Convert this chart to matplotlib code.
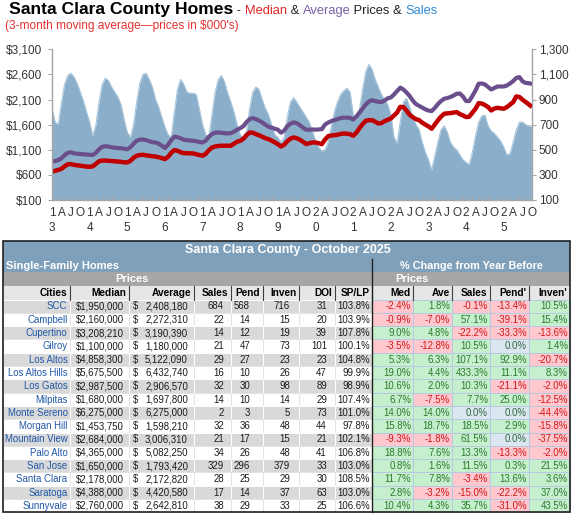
import numpy as np
import matplotlib
matplotlib.use('Agg')
import matplotlib.pyplot as plt
from matplotlib.patches import Rectangle
import matplotlib.ticker as mticker

plt.rcParams['font.family'] = ['Liberation Sans', 'DejaVu Sans']

# monthly, Jan 2013 .. Oct 2025 (3-month moving averages)
sales = [830, 720, 700, 870, 1020, 1090, 1110, 1080, 1030, 960, 890, 800,
         720, 610, 700, 880, 1020, 1070, 1050, 1000, 960, 920, 860, 740,
         640, 600, 700, 880, 1030, 1100, 1110, 1060, 1000, 900, 840, 760,
         680, 620, 600, 800, 980, 1060, 1020, 960, 950, 950, 940, 820,
         700, 620, 600, 780, 960, 1060, 1090, 1040, 950, 880, 800, 700,
         620, 590, 650, 830, 960, 1000, 980, 900, 830, 780, 700, 620,
         600, 560, 600, 760, 880, 915, 880, 840, 800, 760, 720, 650,
         570, 520, 490, 500, 560, 680, 800, 880, 940, 970, 990, 960,
         780, 740, 820, 980, 1120, 1180, 1140, 1060, 1000, 940, 900, 860,
         780, 600, 550, 720, 880, 910, 840, 760, 700, 660, 560, 480,
         420, 340, 450, 560, 660, 690, 640, 560, 520, 500, 460, 420,
         400, 380, 480, 610, 720, 770, 775, 690, 650, 630, 600, 570,
         520, 460, 470, 560, 660, 720, 720, 700, 690, 690]
avg_price = [870, 875, 895, 930, 990, 1040, 1050, 1030, 1020, 1015, 1010, 1005,
             1000, 995, 1040, 1110, 1160, 1170, 1165, 1150, 1140, 1135, 1130, 1120,
             1110, 1150, 1220, 1280, 1300, 1305, 1290, 1270, 1250, 1245, 1220, 1180,
             1135, 1200, 1290, 1360, 1350, 1330, 1300, 1290, 1285, 1280, 1270, 1255,
             1245, 1280, 1360, 1410, 1440, 1445, 1440, 1430, 1425, 1430, 1460, 1500,
             1530, 1570, 1650, 1710, 1730, 1710, 1680, 1645, 1600, 1560, 1540, 1520,
             1500, 1440, 1480, 1570, 1620, 1645, 1630, 1590, 1540, 1500, 1500, 1505,
             1500, 1505, 1510, 1600, 1640, 1670, 1690, 1710, 1730, 1740, 1740, 1735,
             1700, 1760, 1840, 1920, 2000, 2060, 2085, 2070, 2055, 2050, 2080, 2125,
             2140, 2200, 2270, 2337, 2300, 2240, 2170, 2080, 2010, 1975, 1940, 1905,
             1880, 1870, 1930, 2010, 2070, 2116, 2130, 2150, 2180, 2215, 2220, 2160,
             2070, 2070, 2170, 2280, 2414, 2420, 2400, 2350, 2300, 2330, 2360, 2360,
             2360, 2380, 2420, 2467, 2530, 2546, 2460, 2430, 2425, 2408]
med_price = [670, 680, 700, 720, 770, 810, 815, 800, 790, 782, 775, 765,
             762, 770, 820, 870, 885, 885, 880, 875, 870, 865, 860, 850,
             848, 880, 940, 980, 995, 1000, 990, 980, 970, 965, 950, 935,
             914, 960, 1040, 1093, 1080, 1050, 1033, 1030, 1028, 1027, 1010, 995,
             980, 1020, 1090, 1146, 1165, 1175, 1180, 1180, 1178, 1180, 1220, 1260,
             1278, 1320, 1390, 1444, 1440, 1410, 1390, 1360, 1330, 1311, 1280, 1250,
             1210, 1165, 1200, 1270, 1320, 1345, 1330, 1300, 1260, 1215, 1230, 1245,
             1245, 1230, 1212, 1300, 1370, 1385, 1390, 1400, 1415, 1424, 1420, 1410,
             1378, 1440, 1530, 1610, 1676, 1690, 1689, 1660, 1623, 1630, 1670, 1695,
             1722, 1780, 1841, 1954, 1950, 1880, 1795, 1750, 1709, 1690, 1640, 1600,
             1565, 1519, 1600, 1685, 1760, 1817, 1825, 1830, 1840, 1850, 1810, 1784,
             1751, 1760, 1840, 1917, 2029, 2020, 1990, 1950, 1883, 1920, 1935, 1925,
             1917, 1950, 2000, 2049, 2162, 2150, 2096, 2049, 2003, 1950]
start_year = 2013
price_ticks = [100, 600, 1100, 1600, 2100, 2600, 3100]
sales_ticks = [100, 300, 500, 700, 900, 1100, 1300]

# table data
cities = ['SCC', 'Campbell', 'Cupertino', 'Gilroy', 'Los Altos', 'Los Altos Hills',
          'Los Gatos', 'Milpitas', 'Monte Sereno', 'Morgan Hill', 'Mountain View',
          'Palo Alto', 'San Jose', 'Santa Clara', 'Saratoga', 'Sunnyvale']
median = [1950000, 2160000, 3208210, 1100000, 4858300, 5675500, 2987500, 1680000,
          6275000, 1453750, 2684000, 4365000, 1650000, 2178000, 4388000, 2760000]
average = [2408180, 2272310, 3190390, 1180000, 5122090, 6432740, 2906570, 1697800,
           6275000, 1598210, 3006310, 5082250, 1793420, 2172820, 4420580, 2642810]
n_sales = [684, 22, 14, 21, 29, 16, 32, 14, 2, 32, 21, 34, 329, 28, 17, 38]
n_pend = [568, 14, 12, 47, 27, 10, 30, 10, 3, 36, 17, 26, 296, 25, 14, 29]
n_inven = [716, 15, 19, 73, 23, 26, 98, 14, 5, 48, 15, 48, 379, 29, 37, 33]
doi = [31, 20, 39, 101, 23, 47, 89, 29, 73, 44, 21, 41, 33, 30, 63, 25]
sp_lp = [103.8, 103.9, 107.8, 100.1, 104.8, 99.9, 98.9, 107.4, 101.0, 97.8, 102.1,
         106.8, 103.0, 108.5, 103.0, 106.6]
chg_med = [-2.4, -0.9, 9.0, -3.5, 5.3, 19.0, 10.6, 6.7, 14.0, 15.8, -9.3, 18.8, 0.8, 11.7, 2.8, 10.4]
chg_ave = [1.8, -7.0, 4.8, -12.8, 6.3, 4.4, 2.0, -7.5, 14.0, 18.7, -1.8, 7.6, 1.6, 7.8, -3.2, 4.3]
chg_sales = [-0.1, 57.1, -22.2, 10.5, 107.1, 433.3, 10.3, 7.7, 0.0, 18.5, 61.5, 13.3, 11.5, -3.4, -15.0, 35.7]
chg_pend = [-13.4, -39.1, -33.3, 0.0, 92.9, 11.1, -21.1, 25.0, 0.0, 2.9, 0.0, -13.3, 0.3, 13.6, -22.2, -31.0]
chg_inven = [10.5, 15.4, -13.6, 1.4, -20.7, 8.3, -2.0, -12.5, -44.4, -15.8, -37.5, -2.0, 21.5, 3.6, 37.0, 43.5]

W, H = 575, 519
fig = plt.figure(figsize=(W / 100, H / 100), dpi=100)


def fx(px):
    return px / W


def fy(py):
    return 1 - py / H


# ---- chart ----
ax = fig.add_axes([fx(52), fy(200), fx(532) - fx(52), fy(49.3) - fy(200)])
ax2 = ax.twinx()
ax.set_zorder(2)
ax.patch.set_visible(False)
ax2.set_zorder(1)

x = np.arange(len(sales))
ax2.fill_between(x, 100, sales, color='#8BAFCA', lw=0)
ax2.plot(x, sales, color='#A8C6DC', lw=0.8)
ax.plot(x, avg_price, color='#6B4E8C', lw=3.0, solid_capstyle='butt')
ax.plot(x, med_price, color='#C00000', lw=3.2, solid_capstyle='butt')

ax.set_xlim(0, len(sales) - 1)
ax.set_ylim(100, 3100)
ax2.set_ylim(100, 1300)
ax.set_yticks(price_ticks)
ax.yaxis.set_major_formatter(mticker.FuncFormatter(lambda v, p: '${:,.0f}'.format(v)))
ax2.set_yticks(sales_ticks)
ax2.yaxis.set_major_formatter(mticker.FuncFormatter(lambda v, p: '{:,.0f}'.format(v)))

qpos = list(range(0, len(sales), 3))
qlab = []
for m in qpos:
    yr = str(start_year + m // 12)
    k = m % 12
    if k == 0:
        qlab.append(yr[2] + '\n' + yr[3])
    else:
        qlab.append({3: 'A', 6: 'J', 9: 'O'}[k])
ax.set_xticks(qpos)
ax.set_xticklabels(qlab, linespacing=1.3)
ax.xaxis.set_minor_locator(mticker.MultipleLocator(1))

gray = '#A6A6A6'
txtc = '#333333'
for a in (ax, ax2):
    for s in a.spines.values():
        s.set_color(gray)
        s.set_linewidth(1.0)
    a.spines['top'].set_visible(False)
ax.spines['right'].set_visible(False)
ax2.spines['left'].set_visible(False)
ax2.spines['bottom'].set_visible(False)
ax.tick_params(axis='x', which='major', length=0, pad=5, labelsize=8.5, colors=txtc)
ax.tick_params(axis='x', which='minor', length=3, direction='in', color=gray, width=0.6)
ax.tick_params(axis='y', length=3, pad=4, labelsize=8.5, colors=txtc, color=gray)
ax2.tick_params(axis='y', length=3, pad=2, labelsize=8.5, colors=txtc, color=gray)

# ---- title ----
r = fig.canvas.get_renderer()


def put_pieces(px, py, pieces):
    for s, kw in pieces:
        t = fig.text(fx(px), fy(py), s, va='baseline', ha='left', **kw)
        px += t.get_window_extent(renderer=r).width


put_pieces(9, 14, [('Santa Clara County Homes', dict(fontsize=12.6, fontweight='bold', color='black')),
                   (' - ', dict(fontsize=9.3, color='#222222')),
                   ('Median', dict(fontsize=9.3, color='#E02828')),
                   (' & ', dict(fontsize=9.3, color='#222222')),
                   ('Average', dict(fontsize=9.3, color='#7B5EA6')),
                   (' Prices & ', dict(fontsize=9.3, color='#222222')),
                   ('Sales', dict(fontsize=9.3, color='#2C8AD6'))])
fig.text(fx(5), fy(29), "(3-month moving average\u2014prices in $000's)", va='baseline',
         fontsize=8.6, color='#E63030')

# ---- table ----
tb = fig.add_axes([0, 0, 1, 1])
tb.set_xlim(0, W)
tb.set_ylim(H, 0)
tb.axis('off')
tb.patch.set_visible(False)

L, R = 3, 570
hdr_blue = '#7FA0BA'
cols = [3, 69.5, 128.5, 193.5, 230.5, 263, 299, 335, 372, 413, 452, 490, 529, 570]
row_top = 299.5
rh = 13.3
nrow = len(cities)
bottom = row_top + rh * nrow

tb.add_patch(Rectangle((L, 241), R - L, 31, fc=hdr_blue, ec='none'))
tb.add_patch(Rectangle((L, 272), R - L, 14, fc='#A6A6A6', ec='none'))
tb.add_patch(Rectangle((L, 286), R - L, row_top - 286, fc='#E6E6E6', ec='none'))
tb.text(288, 250.5, 'Santa Clara County - October 2025', ha='center', va='center',
        fontsize=9, fontweight='bold', color='white')
tb.text(6, 266, 'Single-Family Homes', ha='left', va='center', fontsize=8, fontweight='bold', color='white')
tb.text(471, 266, '% Change from Year Before', ha='center', va='center', fontsize=7.8,
        fontweight='bold', color='white')
tb.text((cols[1] + cols[3]) / 2, 279.5, 'Prices', ha='center', va='center', fontsize=8,
        fontweight='bold', color='white')
tb.text((cols[8] + cols[10]) / 2, 279.5, 'Prices', ha='center', va='center', fontsize=8,
        fontweight='bold', color='white')

headers = ['Cities', 'Median', 'Average', 'Sales', 'Pend', 'Inven', 'DOI', 'SP/LP',
           'Med', 'Ave', 'Sales', 'Pend\'', 'Inven\'']
for i, h in enumerate(headers):
    tb.text(cols[i + 1] - 2.5, 293, h, ha='right', va='center', fontsize=7.3,
            fontweight='bold', color='black')
for c in cols[1:-1]:
    tb.plot([c, c], [286, row_top], color='#404040', lw=0.8)

green_bg, green_tx = '#C6EFCE', '#2B7A2B'
red_bg, red_tx = '#FFC7CE', '#D01818'
zero_bg, zero_tx = '#DCE6F1', '#2B6A3B'
fs = 6.9
num_c = '#1A1A1A'
right_pos = [67.5, 124, 188, 224, 250, 290, 327, 370]
for i in range(nrow):
    y0 = row_top + rh * i
    yc = y0 + rh / 2 + 0.3
    bg = '#D9D9D9' if i % 2 == 0 else 'white'
    for j in range(8):
        tb.add_patch(Rectangle((cols[j], y0), cols[j + 1] - cols[j], rh, fc=bg,
                               ec='white' if i % 2 == 0 else '#E3E3E3', lw=0.7))
    tb.text(right_pos[0], yc, cities[i], ha='right', va='center', fontsize=fs, color='#2058A8')
    tb.text(right_pos[1], yc, '$' + format(median[i], ','), ha='right', va='center', fontsize=fs, color=num_c)
    tb.text(133, yc, '$', ha='left', va='center', fontsize=fs, color=num_c)
    tb.text(right_pos[2], yc, format(average[i], ','), ha='right', va='center', fontsize=fs, color=num_c)
    for j, v in enumerate([n_sales[i], n_pend[i], n_inven[i], doi[i]]):
        tb.text(right_pos[3 + j], yc, str(v), ha='right', va='center', fontsize=fs, color=num_c)
    tb.text(right_pos[7], yc, '%.1f%%' % sp_lp[i], ha='right', va='center', fontsize=fs, color=num_c)
    for j, v in enumerate([chg_med[i], chg_ave[i], chg_sales[i], chg_pend[i], chg_inven[i]]):
        if v > 0:
            fc, tc = green_bg, green_tx
        elif v < 0:
            fc, tc = red_bg, red_tx
        else:
            fc, tc = zero_bg, zero_tx
        c0, c1 = cols[8 + j], cols[9 + j]
        tb.add_patch(Rectangle((c0, y0), c1 - c0, rh, fc=fc, ec='#B7C9E2', lw=0.7))
        tb.text(c1 - 2, yc, '%.1f%%' % v, ha='right', va='center', fontsize=fs, color=tc)

tb.plot([372, 372], [259, bottom], color='#202020', lw=1.0)
tb.add_patch(Rectangle((L, 241), R - L, bottom - 241, fc='none', ec='#202020', lw=1.2))

fig.savefig('out.png', dpi=100)
